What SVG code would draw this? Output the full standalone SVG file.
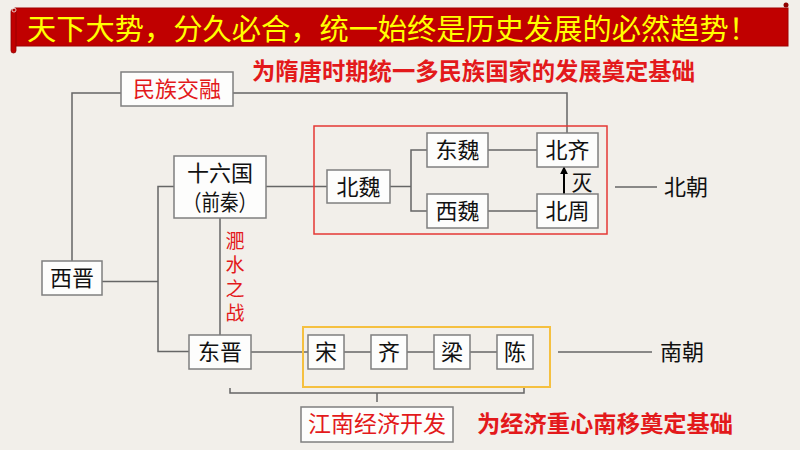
<svg xmlns="http://www.w3.org/2000/svg" width="800" height="450" viewBox="0 0 800 450">
<style>
text{font-family:"Noto Sans CJK SC","Noto Sans",sans-serif;}
.box{fill:#fdfdfc;stroke:#7f7f7f;stroke-width:1.5;}
.t{font-size:22px;fill:#111;text-anchor:middle;}
.r{fill:#e3191b;}
.c{fill:none;stroke:#666;stroke-width:1.5;}
</style>
<defs>
<marker id="ah" viewBox="0 0 10 10" refX="9" refY="5" markerWidth="4" markerHeight="4" orient="auto" markerUnits="strokeWidth">
<path d="M0,0 L10,5 L0,10 z" fill="#000"/>
</marker>
</defs>
<rect width="800" height="450" fill="#f2efea"/>
<g id="title">
<rect x="15" y="8" width="773" height="38" fill="#c00000" stroke="#a00000" stroke-width="1"/>
<rect x="11" y="9" width="5" height="44" rx="2.5" fill="#c00000" stroke="#900000" stroke-width="0.8"/>
<circle cx="14" cy="10" r="2" fill="none" stroke="#f2efea" stroke-width="0.8"/>
<circle cx="786" cy="5" r="2.5" fill="#900000"/>
<text x="27" y="40" font-size="29" fill="#ffff00" textLength="731" lengthAdjust="spacingAndGlyphs">天下大势，分久必合，统一始终是历史发展的必然趋势！</text>
</g>
<g id="connectors">
<path class="c" d="M72,261 V93 H121"/>
<path class="c" d="M233,93 H567 V133"/>
<path class="c" d="M102,281.5 H158"/>
<path class="c" d="M174,186.5 H158 V351.5 H189"/>
<path class="c" d="M266,186.5 H327"/>
<path class="c" d="M220,218 V335"/>
<path class="c" d="M390,186.5 H411"/>
<path class="c" d="M427,150 H411 V211 H427"/>
<path class="c" d="M488,150 H537"/>
<path class="c" d="M488,211 H537"/>
<path class="c" d="M251,352 H308"/>
<path class="c" d="M344,352 H371"/>
<path class="c" d="M407,352 H434"/>
<path class="c" d="M470,352 H497"/>
<path class="c" d="M230,388 V393 H524 V388"/>
<path class="c" d="M377,393 V402"/>
<path class="c" d="M615,187 H657"/>
<path class="c" d="M558,352 H652"/>
<path d="M564,197 V167" stroke="#000" stroke-width="2" fill="none" marker-end="url(#ah)"/>
</g>
<g id="northern-frame"><rect x="314" y="126" width="293" height="108" fill="none" stroke="#e53935" stroke-width="1.5"/></g>
<g id="southern-frame"><rect x="303" y="327" width="247" height="60" fill="none" stroke="#f5c040" stroke-width="2"/></g>
<g id="minzu"><rect class="box" x="121" y="72" width="112" height="34"/><text class="t r" x="177" y="97">民族交融</text></g>
<g id="shiliuguo"><rect class="box" x="174" y="156" width="92" height="62"/><text class="t" x="220" y="181">十六国</text><text class="t" x="220" y="210" textLength="74" lengthAdjust="spacingAndGlyphs">（前秦）</text></g>
<g id="beiwei"><rect class="box" x="327" y="170" width="63" height="33"/><text class="t" x="358.5" y="194.5">北魏</text></g>
<g id="dongwei"><rect class="box" x="427" y="133" width="61" height="34"/><text class="t" x="457.5" y="158">东魏</text></g>
<g id="xiwei"><rect class="box" x="427" y="194" width="61" height="34"/><text class="t" x="457.5" y="219">西魏</text></g>
<g id="beiqi"><rect class="box" x="537" y="133" width="61" height="34"/><text class="t" x="567.5" y="158">北齐</text></g>
<g id="beizhou"><rect class="box" x="537" y="194" width="61" height="34"/><text class="t" x="567.5" y="219">北周</text></g>
<g id="xijin"><rect class="box" x="42" y="261" width="60" height="34"/><text class="t" x="72" y="286">西晋</text></g>
<g id="dongjin"><rect class="box" x="189" y="335" width="62" height="34"/><text class="t" x="220" y="360">东晋</text></g>
<g id="song"><rect class="box" x="308" y="335" width="36" height="34"/><text class="t" x="326" y="360">宋</text></g>
<g id="qi"><rect class="box" x="371" y="335" width="36" height="34"/><text class="t" x="389" y="360">齐</text></g>
<g id="liang"><rect class="box" x="434" y="335" width="36" height="34"/><text class="t" x="452" y="360">梁</text></g>
<g id="chen"><rect class="box" x="497" y="335" width="36" height="34"/><text class="t" x="515" y="360">陈</text></g>
<g id="jiangnan"><rect class="box" x="301" y="407" width="152" height="35"/><text class="t r" x="377" y="432" style="font-size:23px">江南经济开发</text></g>
<g id="labels">
<text x="252" y="80" font-size="24" font-weight="bold" fill="#e3191b" textLength="443" lengthAdjust="spacingAndGlyphs">为隋唐时期统一多民族国家的发展奠定基础</text>
<text x="477" y="432" font-size="23" font-weight="bold" fill="#e3191b" textLength="256" lengthAdjust="spacingAndGlyphs">为经济重心南移奠定基础</text>
<text x="664" y="195" font-size="22" fill="#111">北朝</text>
<text x="660" y="360" font-size="22" fill="#111">南朝</text>
<text x="582" y="190" font-size="21" fill="#111" text-anchor="middle">灭</text>
<text x="235" y="231" font-size="19" fill="#e3191b" writing-mode="tb" letter-spacing="5">淝水之战</text>
</g>
</svg>
